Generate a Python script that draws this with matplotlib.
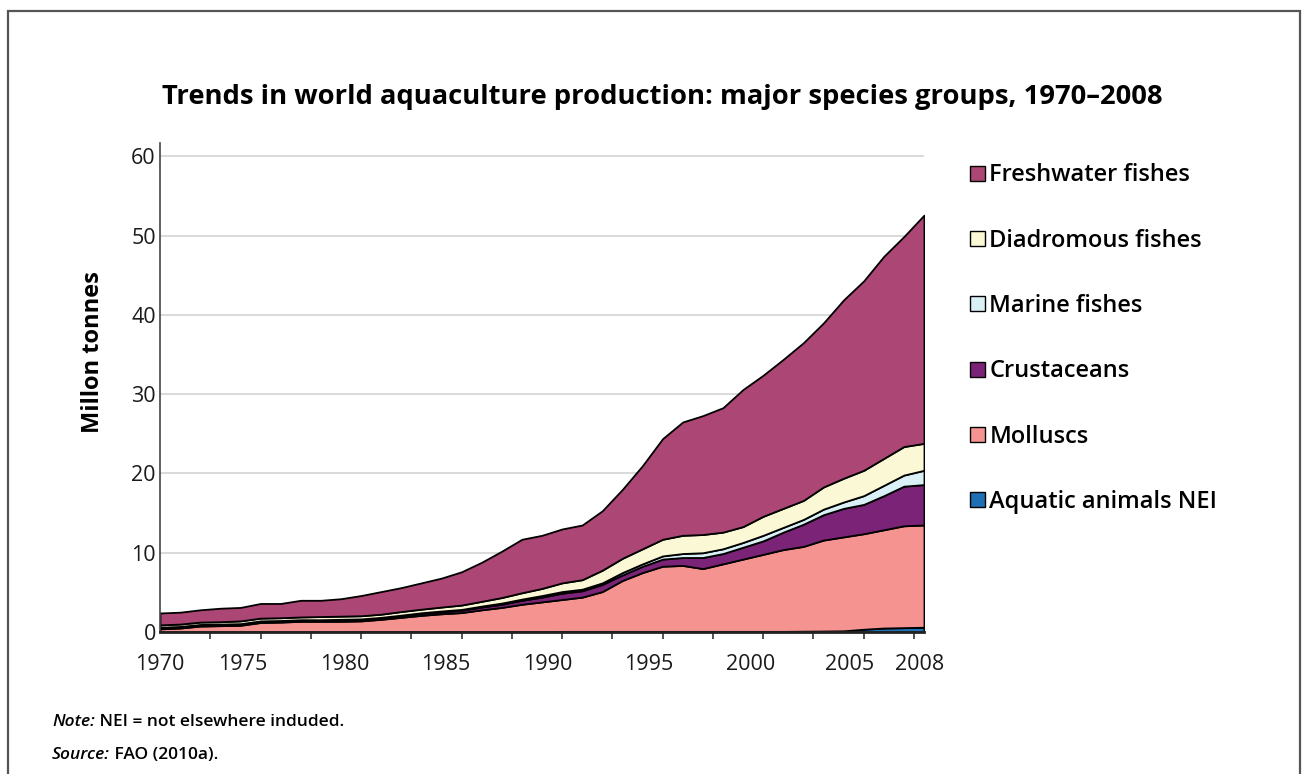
import matplotlib
matplotlib.use("Agg")
import matplotlib.pyplot as plt
from matplotlib.patches import Patch, Rectangle
import numpy as np

# data (million tonnes)
years = list(range(1970, 2009))

nei = [0.03, 0.03, 0.03, 0.03, 0.03, 0.03, 0.03, 0.03, 0.03, 0.03,
       0.05, 0.05, 0.05, 0.05, 0.05, 0.05, 0.05, 0.05, 0.05, 0.05,
       0.08, 0.08, 0.08, 0.08, 0.08, 0.08, 0.08, 0.08, 0.08, 0.08,
       0.08, 0.08, 0.10, 0.12, 0.15, 0.35, 0.50, 0.55, 0.60]
molluscs = [0.37, 0.47, 0.72, 0.77, 0.82, 1.17, 1.22, 1.32, 1.32, 1.32,
            1.35, 1.55, 1.80, 2.05, 2.25, 2.40, 2.75, 3.05, 3.45, 3.75,
            4.02, 4.32, 5.02, 6.42, 7.42, 8.22, 8.32, 7.92, 8.52, 9.12,
            9.72, 10.32, 10.70, 11.48, 11.85, 12.05, 12.40, 12.85, 12.90]
crustaceans = [0.15, 0.15, 0.15, 0.15, 0.15, 0.15, 0.15, 0.15, 0.15, 0.20,
               0.20, 0.20, 0.20, 0.25, 0.25, 0.30, 0.35, 0.40, 0.50, 0.60,
               0.80, 0.80, 0.90, 0.70, 0.80, 0.90, 1.00, 1.40, 1.30, 1.50,
               1.70, 2.20, 2.80, 3.20, 3.60, 3.70, 4.30, 5.00, 5.10]
marine = [0.05, 0.05, 0.05, 0.05, 0.05, 0.05, 0.05, 0.05, 0.05, 0.05,
          0.05, 0.05, 0.08, 0.08, 0.10, 0.10, 0.12, 0.15, 0.15, 0.20,
          0.20, 0.20, 0.20, 0.30, 0.30, 0.40, 0.50, 0.60, 0.60, 0.60,
          0.70, 0.60, 0.60, 0.70, 0.80, 1.10, 1.30, 1.40, 1.80]
diadromous = [0.30, 0.30, 0.30, 0.30, 0.35, 0.35, 0.35, 0.35, 0.40, 0.40,
              0.40, 0.40, 0.45, 0.45, 0.50, 0.55, 0.60, 0.70, 0.80, 0.90,
              1.10, 1.20, 1.60, 1.80, 1.90, 2.10, 2.30, 2.30, 2.10, 2.00,
              2.40, 2.40, 2.40, 2.80, 3.00, 3.20, 3.40, 3.60, 3.40]
freshwater = [1.50, 1.50, 1.55, 1.70, 1.70, 1.85, 1.80, 2.10, 2.05, 2.20,
              2.55, 2.85, 3.02, 3.32, 3.65, 4.20, 4.93, 5.85, 6.75, 6.70,
              6.80, 6.90, 7.50, 8.70, 10.50, 12.70, 14.30, 15.00, 15.70, 17.30,
              17.80, 18.80, 19.90, 20.70, 22.50, 23.90, 25.50, 26.50, 28.80]

# bottom to top
series = [nei, molluscs, crustaceans, marine, diadromous, freshwater]
labels = ["Aquatic animals NEI", "Molluscs", "Crustaceans", "Marine fishes",
          "Diadromous fishes", "Freshwater fishes"]
colors = ["#1F6FB5", "#F59390", "#7B2377", "#D9F0F7", "#FBF8D5", "#AB4675"]

xlabels = ["1970", "1975", "1980", "1985", "1990", "1995", "2000", "2005", "2008"]
xlabel_pos = [1970, 1974.1, 1979.2, 1984.2, 1989.3, 1994.3, 1999.4, 2004.3, 2007.8]

plt.rcParams['font.family'] = ['Open Sans', 'DejaVu Sans']

W, H = 1307, 774
fig = plt.figure(figsize=(W / 100, H / 100), dpi=100)

# outer frame
fig.patches.append(Rectangle((8 / W, -0.05), 1292 / W, 1 - 11 / H + 0.05,
                             transform=fig.transFigure, fill=False,
                             edgecolor="#555555", linewidth=1.6))

ax = fig.add_axes([160 / W, 1 - 632 / H, 764 / W, 489 / H])

ax.stackplot(years, *series, colors=colors, edgecolor="black", linewidth=1.3,
             zorder=2)

ax.set_xlim(1970, 2008)
ax.set_ylim(0, 61.7)

ax.set_yticks(range(0, 61, 10))
ax.yaxis.grid(True, color="#d9d9d9", linewidth=1.4, zorder=0)
ax.set_axisbelow(True)
ax.tick_params(axis="y", length=0, pad=3, labelsize=15.5, labelcolor="#1a1a1a")

# tick marks every 2.5 years, labels placed as in the original
ax.set_xticks(np.arange(1970, 2008, 2.5), minor=True)
ax.tick_params(axis="x", which="minor", length=5, width=1.2, color="#333333")
ax.set_xticks(xlabel_pos)
ax.set_xticklabels(xlabels)
ax.tick_params(axis="x", which="major", length=0, pad=16, labelsize=15.5,
               labelcolor="#1a1a1a")
for lbl in ax.get_xticklabels() + ax.get_yticklabels():
    lbl.set_fontweight("medium")

for s in ["top", "right"]:
    ax.spines[s].set_visible(False)
ax.spines["left"].set_color("#444444")
ax.spines["left"].set_linewidth(1.2)
ax.spines["bottom"].set_color("#222222")
ax.spines["bottom"].set_linewidth(2.0)

ax.set_ylabel("Millon tonnes", fontsize=17, fontweight="bold")
ax.yaxis.set_label_coords(-0.072, 0.573)

fig.text(162 / W, 1 - 97 / H,
         "Trends in world aquaculture production: major species groups, 1970\u20132008",
         fontsize=19.7, fontweight="bold", va="center", ha="left")

handles = [Patch(facecolor=c, edgecolor="black", linewidth=1.0)
           for c in colors[::-1]]
leg = fig.legend(handles, labels[::-1], loc="upper left",
                 bbox_to_anchor=(961 / W, 1 - 154 / H), frameon=False,
                 fontsize=17, handlelength=0.6, handleheight=0.6,
                 handletextpad=0.2, labelspacing=1.75, borderaxespad=0)
for t in leg.get_texts():
    t.set_fontweight("semibold")

# footnotes: italic lead-in followed by the plain text
t1 = fig.text(52 / W, 1 - 722 / H, "Note:", fontsize=12.5, style="italic",
              fontweight="semibold", va="center")
ax.annotate(" NEI = not elsewhere induded.", xy=(1, 0.5), xycoords=t1,
            fontsize=12.5, fontweight="semibold", va="center", ha="left",
            annotation_clip=False)
t3 = fig.text(52 / W, 1 - 755 / H, "Source:", fontsize=12.5, style="italic",
              fontweight="semibold", va="center")
ax.annotate(" FAO (2010a).", xy=(1, 0.5), xycoords=t3,
            fontsize=12.5, fontweight="semibold", va="center", ha="left",
            annotation_clip=False)

fig.savefig("out.png", dpi=100)
